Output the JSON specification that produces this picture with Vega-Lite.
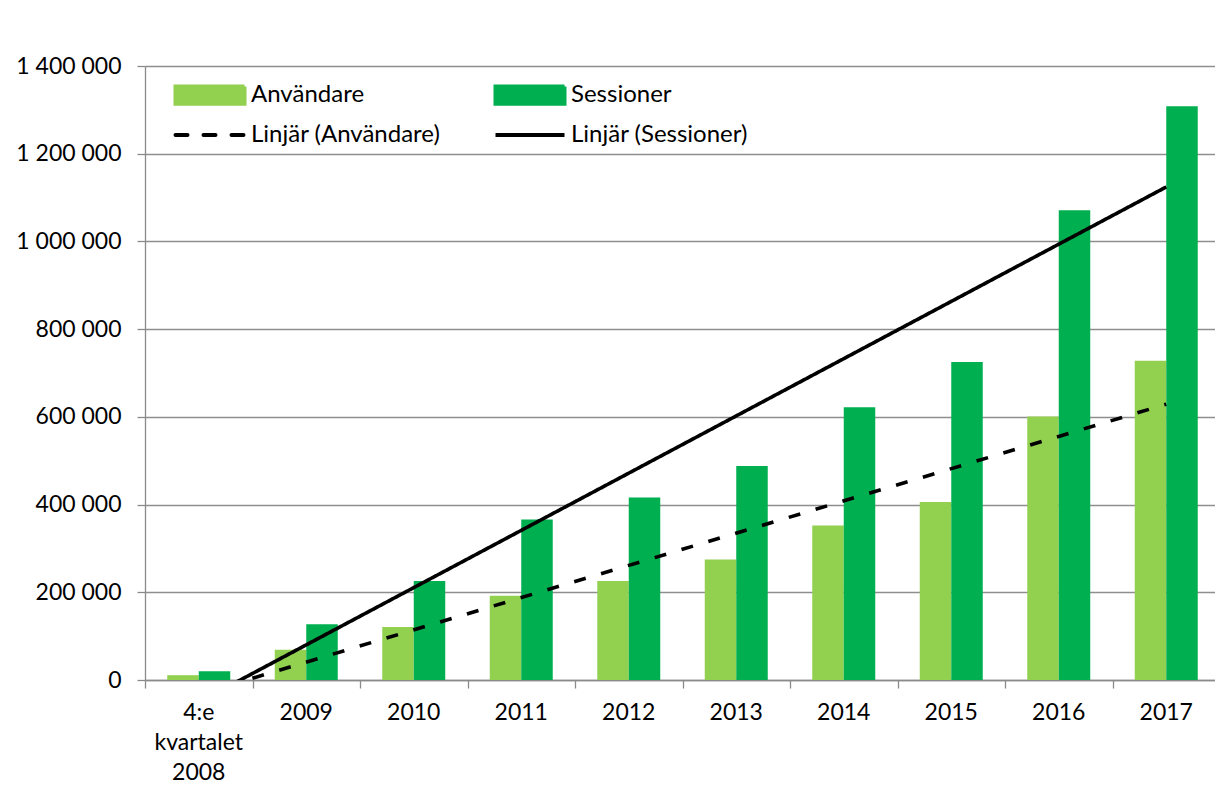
{
  "$schema": "https://vega.github.io/schema/vega-lite/v6.json",
  "width": 1075,
  "height": 614,
  "autosize": {"type": "none"},
  "padding": {"left": 145, "top": 66, "right": -5, "bottom": 107},
  "background": "white",
  "config": {
    "view": {"stroke": null},
    "font": "Lato",
    "axis": {
      "labelFont": "Lato",
      "labelFontSize": 23,
      "labelColor": "#000000",
      "domainColor": "#8a8a8a",
      "tickColor": "#8a8a8a",
      "gridColor": "#8e8e8e",
      "title": null
    }
  },
  "data": {
    "values": [
      {"cat": "4:e kvartalet 2008", "idx": 1, "serie": "Användare", "value": 11000},
      {"cat": "4:e kvartalet 2008", "idx": 1, "serie": "Sessioner", "value": 20000},
      {"cat": "2009", "idx": 2, "serie": "Användare", "value": 69000},
      {"cat": "2009", "idx": 2, "serie": "Sessioner", "value": 127000},
      {"cat": "2010", "idx": 3, "serie": "Användare", "value": 121000},
      {"cat": "2010", "idx": 3, "serie": "Sessioner", "value": 226000},
      {"cat": "2011", "idx": 4, "serie": "Användare", "value": 192000},
      {"cat": "2011", "idx": 4, "serie": "Sessioner", "value": 366000},
      {"cat": "2012", "idx": 5, "serie": "Användare", "value": 226000},
      {"cat": "2012", "idx": 5, "serie": "Sessioner", "value": 416000},
      {"cat": "2013", "idx": 6, "serie": "Användare", "value": 275000},
      {"cat": "2013", "idx": 6, "serie": "Sessioner", "value": 488000},
      {"cat": "2014", "idx": 7, "serie": "Användare", "value": 352000},
      {"cat": "2014", "idx": 7, "serie": "Sessioner", "value": 622000},
      {"cat": "2015", "idx": 8, "serie": "Användare", "value": 406000},
      {"cat": "2015", "idx": 8, "serie": "Sessioner", "value": 725000},
      {"cat": "2016", "idx": 9, "serie": "Användare", "value": 601000},
      {"cat": "2016", "idx": 9, "serie": "Sessioner", "value": 1071000},
      {"cat": "2017", "idx": 10, "serie": "Användare", "value": 728000},
      {"cat": "2017", "idx": 10, "serie": "Sessioner", "value": 1308000}
    ]
  },
  "layer": [
    {
      "mark": {"type": "bar"},
      "encoding": {
        "x": {
          "field": "cat",
          "type": "nominal",
          "sort": {"field": "idx", "op": "min"},
          "scale": {"paddingInner": 0.414, "paddingOuter": 0.207},
          "axis": {
            "domain": false,
            "ticks": false,
            "grid": false,
            "labelAngle": 0,
            "labelPadding": 21,
            "labelLineHeight": 30,
            "labelExpr": "datum.value === '4:e kvartalet 2008' ? ['4:e', 'kvartalet', '2008'] : datum.value"
          }
        },
        "xOffset": {
          "field": "serie",
          "type": "nominal",
          "scale": {"paddingInner": 0, "paddingOuter": 0}
        },
        "y": {
          "field": "value",
          "type": "quantitative",
          "scale": {"domain": [0, 1400000], "nice": false},
          "axis": {
            "values": [0, 200000, 400000, 600000, 800000, 1000000, 1200000, 1400000],
            "grid": true,
            "gridWidth": 1.3,
            "domain": true,
            "domainWidth": 1.3,
            "ticks": true,
            "tickSize": 8,
            "tickWidth": 1.3,
            "labelPadding": 16,
            "labelExpr": "replace(replace(format(datum.value, ','), ',', ' '), ',', ' ')"
          }
        },
        "color": {
          "field": "serie",
          "type": "nominal",
          "scale": {
            "domain": ["Användare", "Sessioner", "Linjär (Användare)", "Linjär (Sessioner)"],
            "range": ["#92D050", "#00B050", "#000000", "#000000"]
          },
          "legend": {
            "orient": "none",
            "legendX": 53,
            "legendY": 17,
            "direction": "horizontal",
            "columns": 2,
            "columnPadding": 46,
            "rowPadding": 11,
            "title": null,
            "padding": 0,
            "labelFont": "Lato",
            "labelFontSize": 24,
            "labelColor": "#000000",
            "labelOffset": 29,
            "labelLimit": 500,
            "symbolSize": 400,
            "symbolStrokeWidth": 4,
            "encode": {
              "symbols": {
                "update": {
                  "shape": {"signal": "indexof(datum.label, 'Linjär') === 0 ? 'M-3.45,0H3.45' : 'M-3.45,-0.86H3.45V0.86H-3.45Z'"},
                  "fill": {"signal": "indexof(datum.label, 'Linjär') === 0 ? 'transparent' : scale('color', datum.value)"},
                  "stroke": {"signal": "indexof(datum.label, 'Linjär') === 0 ? '#000000' : 'transparent'"},
                  "strokeDash": {"signal": "datum.label === 'Linjär (Användare)' ? [12, 16] : [1, 0]"},
                  "strokeCap": {"signal": "datum.label === 'Linjär (Användare)' ? 'round' : 'butt'"},
                  "strokeWidth": {"value": 4},
                  "opacity": {"value": 1}
                }
              }
            }
          }
        }
      }
    },
    {
      "transform": [
        {"regression": "value", "on": "idx", "groupby": ["serie"]},
        {"calculate": "'Linjär (' + datum.serie + ')'", "as": "trend"}
      ],
      "mark": {"type": "line", "clip": true, "strokeWidth": 3.6},
      "encoding": {
        "x": {
          "field": "idx",
          "type": "quantitative",
          "scale": {"domain": [0.5, 10.5], "nice": false, "zero": false},
          "axis": {
            "orient": "bottom",
            "values": [0.5, 1.5, 2.5, 3.5, 4.5, 5.5, 6.5, 7.5, 8.5, 9.5, 10.5],
            "labels": false,
            "grid": false,
            "domain": true,
            "domainWidth": 1.5,
            "ticks": true,
            "tickSize": 8,
            "tickWidth": 1.3
          }
        },
        "y": {"field": "value", "type": "quantitative"},
        "color": {"field": "trend", "type": "nominal"},
        "strokeDash": {
          "field": "trend",
          "type": "nominal",
          "scale": {
            "domain": ["Linjär (Användare)", "Linjär (Sessioner)"],
            "range": [[12, 16], [1, 0]]
          },
          "legend": null
        },
        "strokeCap": {"value": "round"}
      }
    }
  ],
  "resolve": {"scale": {"x": "independent"}, "axis": {"x": "independent"}}
}
